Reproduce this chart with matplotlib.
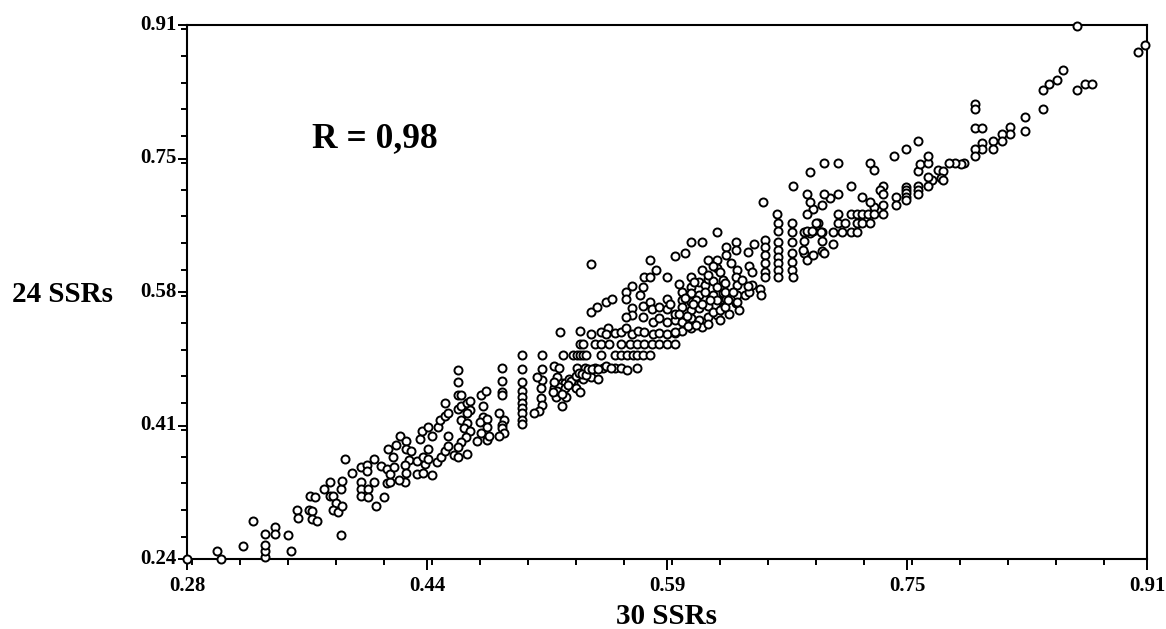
import numpy as np
from matplotlib import pyplot as plt
from matplotlib.ticker import MultipleLocator
from matplotlib.transforms import ScaledTranslation

plt.rcParams['font.family'] = ['Liberation Serif', 'DejaVu Serif']
plt.rcParams['font.weight'] = 'bold'

x_ticklabels = ['0.28', '0.44', '0.59', '0.75', '0.91']
y_ticklabels = ['0.24', '0.41', '0.58', '0.75', '0.91']

# (30 SSRs, 24 SSRs), split by area of the cloud
low = [(.28,.24),(.302,.24),(.30,.25),(.317,.256),(.323,.288),(.331,.243),(.331,.25),(.331,.258),(.331,.271),
       (.338,.28),(.338,.271),(.346,.27),(.348,.25),(.352,.301),(.353,.291),(.36,.301),(.362,.30),(.362,.29),
       (.365,.288),(.381,.27),(.361,.319),(.364,.318),(.37,.328),(.374,.337),(.374,.319),(.376,.319),(.378,.31),
       (.376,.301),(.379,.299),(.382,.306),(.381,.328),(.382,.338),(.384,.365),(.388,.348),(.394,.355),(.398,.358),
       (.398,.35),(.394,.337),(.394,.328),(.394,.319),(.399,.328),(.399,.318),(.403,.337),(.404,.306),(.409,.318),
       (.403,.365),(.407,.357),(.411,.353),(.411,.335),(.413,.337),(.413,.347),(.416,.355),(.415,.368),(.412,.378),
       (.417,.383),(.42,.394),(.424,.388),(.424,.378),(.427,.375),(.426,.364),(.423,.358),(.424,.348),(.423,.337),
       (.419,.339),(.431,.363),(.431,.347),(.435,.348),(.436,.359),(.435,.368),(.438,.365),(.441,.345),(.444,.362),
       (.447,.368),(.449,.375),(.451,.382),(.451,.394),(.438,.378),(.433,.391),(.434,.401),(.438,.406),(.441,.394),
       (.445,.406),(.446,.414),(.449,.419),(.451,.423),(.449,.436)]

lower_mid = [(.458,.477),(.458,.462),(.458,.446),(.46,.446),(.458,.428),(.46,.432),(.464,.436),(.466,.438),(.466,.427),
             (.464,.423),(.46,.414),(.464,.411),(.462,.404),(.466,.401),(.463,.393),(.46,.387),(.458,.381),(.455,.371),
             (.458,.368),(.464,.372),(.47,.388),(.473,.446),(.476,.451),(.474,.432),(.474,.418),(.472,.412),(.477,.416),
             (.477,.406),(.473,.398),(.477,.389),(.478,.394),(.485,.423),(.488,.414),(.487,.408),(.487,.404),(.488,.398),
             (.485,.394),(.487,.48),(.487,.463),(.487,.45),(.487,.446),
             (.5,.496),(.5,.478),(.5,.462),(.5,.451),(.5,.443),(.5,.436),(.5,.43),(.5,.423),(.5,.414),(.5,.409),
             (.513,.496),(.513,.478),(.513,.465),(.51,.468),(.512,.455),(.512,.442),(.513,.433),(.511,.426),(.508,.423),
             (.521,.482),(.524,.48),(.523,.468),(.521,.455),(.526,.461),(.525,.451),(.522,.443),(.526,.432),(.529,.443),
             (.528,.461),(.531,.466),(.536,.48),(.536,.468),(.533,.461),(.535,.455),(.538,.45),(.54,.466),(.541,.48),
             (.545,.468),(.55,.466),(.548,.48),(.553,.48),(.555,.482),(.561,.48),(.565,.48),(.569,.477),(.575,.48),
             (.524,.456),(.523,.451),(.528,.454),(.532,.463),(.535,.47),(.537,.473),(.53,.458),(.526,.447),(.52,.449),
             (.521,.462),(.539,.472),(.542,.471),(.543,.478),(.546,.478),(.55,.478),(.558,.48)]

rows_mid = [(.527,.496),(.533,.496),(.536,.496),(.538,.496),(.54,.496),(.542,.496),(.552,.496),(.561,.496),(.565,.496),
            (.569,.496),(.573,.496),(.575,.496),(.579,.496),(.584,.496),
            (.538,.51),(.54,.51),(.548,.51),(.552,.51),(.557,.51),(.565,.51),(.571,.51),(.575,.51),(.58,.51),(.585,.51),
            (.59,.51),(.595,.51),(.6,.51),
            (.538,.526),(.545,.522),(.552,.525),(.556,.53),(.555,.522),(.561,.524),(.565,.525),(.568,.53),(.572,.522),
            (.576,.526),(.58,.525),(.586,.522),(.59,.524),(.595,.522),(.6,.524),(.605,.526),(.611,.53),(.618,.531),
            (.525,.525)]

upper_mid = [(.545,.61),(.545,.55),(.549,.556),(.555,.562),(.559,.566),(.568,.575),(.572,.583),(.568,.566),(.577,.571),
             (.579,.581),(.58,.594),(.584,.594),(.588,.603),(.584,.615),(.595,.594),(.6,.62),(.607,.624),(.611,.638),
             (.618,.638),(.628,.65),(.572,.555),(.572,.546),(.568,.544),(.579,.558),(.579,.544),(.584,.562),(.585,.554),
             (.586,.537),(.59,.556),(.59,.542),(.595,.566),(.595,.554),(.595,.537),(.6,.54),(.605,.575),(.605,.565),
             (.605,.556),(.605,.537),(.611,.594),(.611,.581),(.611,.574),(.611,.562),(.611,.552),(.611,.542),(.616,.588),
             (.616,.571),(.616,.555),(.616,.54),(.622,.615),(.618,.603),(.62,.584),(.622,.591),(.625,.589),(.625,.571),
             (.622,.558),(.622,.544),(.628,.615),(.628,.605),(.628,.581),(.628,.565),(.628,.546),(.632,.59),(.632,.574),
             (.634,.632),(.634,.622),(.634,.566),(.632,.556),(.64,.638),(.64,.628),(.637,.611),(.641,.603),(.64,.594),
             (.641,.584),(.641,.571),(.64,.561),(.646,.571),(.649,.575),(.651,.584),(.649,.608),(.651,.6),(.648,.625),
             (.652,.635),(.659,.64),(.659,.632),(.659,.622),(.659,.611),(.659,.6),(.659,.594),(.656,.579),(.657,.571),
             (.668,.662),(.668,.652),(.668,.638),(.668,.628),(.668,.619),(.668,.611),(.668,.603),(.668,.594),
             (.677,.662),(.677,.65),(.677,.638),(.677,.624),(.677,.613),(.677,.603),(.678,.594),
             (.685,.65),(.689,.649),(.685,.639),(.685,.624),(.687,.615),(.691,.622),(.697,.65),(.697,.639),(.697,.627),
             (.694,.662)]

# overlapping marks in the thick of the cloud
dense = [(.597,.56),(.6,.548),(.608,.545),(.613,.588),(.603,.585),(.607,.567),(.614,.565),(.618,.56),(.62,.575),
         (.623,.565),(.63,.6),(.625,.607),(.644,.59),(.648,.582),(.63,.54),(.636,.548),(.642,.553),(.625,.55),
         (.612,.56),(.603,.548),(.609,.532),(.614,.533),(.622,.535),(.63,.553),(.622,.596),(.633,.586),(.633,.575),
         (.633,.556),(.635,.565),(.638,.575),(.641,.562),(.6,.525),(.687,.652),(.691,.652),(.704,.635),(.698,.624),
         (.684,.628),(.69,.651)]

high = [(.864,.909),(.904,.876),(.909,.885),(.855,.854),(.851,.841),(.846,.836),(.842,.829),(.864,.829),(.869,.836),
        (.874,.836),(.842,.805),(.83,.795),(.83,.777),(.82,.782),(.82,.773),(.815,.773),(.815,.765),(.809,.765),
        (.809,.755),(.802,.762),(.802,.755),(.797,.755),(.797,.746),(.797,.811),(.797,.805),(.797,.781),(.802,.781),
        (.79,.737),(.788,.736),(.784,.737),(.78,.737),(.773,.728),(.776,.727),(.775,.718),(.776,.716),(.769,.716),
        (.766,.719),(.766,.708),(.76,.727),(.761,.736),(.766,.737),(.766,.746),(.76,.765),(.752,.755),(.744,.746),
        (.76,.708),(.76,.703),(.76,.698),(.752,.707),(.752,.703),(.752,.699),(.752,.694),(.752,.69),(.745,.694),
        (.745,.684),(.737,.708),(.735,.703),(.737,.698),(.737,.684),(.737,.673),(.731,.682),(.728,.688),(.723,.694),
        (.728,.737),(.731,.728),(.716,.708),(.707,.737),(.698,.737),(.689,.726),(.678,.708),(.707,.698),(.702,.693),
        (.698,.698),(.697,.684),(.691,.679),(.689,.688),(.687,.698),(.687,.673),(.707,.673),(.716,.673),(.72,.673),
        (.723,.673),(.727,.673),(.731,.673),(.707,.662),(.712,.662),(.72,.662),(.723,.662),(.728,.662),(.704,.65),
        (.71,.65),(.716,.65),(.72,.65),(.693,.662),(.696,.65),(.667,.673),(.658,.688)]

# all groups together
data = np.array(low + lower_mid + rows_mid + upper_mid + dense + high)

fig, ax = plt.subplots(figsize=(11.66, 6.29), dpi=100)
fig.subplots_adjust(left=187/1166, right=1147/1166, top=1-25/629, bottom=1-559/629)

ax.plot(data[:, 0], data[:, 1], 'o', ms=5.8, mfc='white', mec='black', mew=1.4, clip_on=False, zorder=5)

ax.set_xlim(0.28, 0.91)
ax.set_ylim(0.24, 0.91)
ax.set_xticks(np.linspace(0.28, 0.91, 5))
ax.set_yticks(np.linspace(0.24, 0.91, 5))
ax.set_xticklabels(x_ticklabels, fontsize=15)
ax.set_yticklabels(y_ticklabels, fontsize=15)
ax.xaxis.set_minor_locator(MultipleLocator(0.63 / 20))
ax.yaxis.set_minor_locator(MultipleLocator(0.67 / 20))
ax.tick_params(axis='x', which='major', length=8, width=1.4, pad=4.5)
ax.tick_params(axis='x', which='minor', length=4, width=1.4)
ax.tick_params(axis='y', which='major', length=6.5, width=1.4, pad=1)
ax.tick_params(axis='y', which='minor', length=4.3, width=1.4)
# y labels sit a little above their ticks
for t in ax.get_yticklabels():
    t.set_transform(t.get_transform() + ScaledTranslation(0, 3/100, fig.dpi_scale_trans))
for s in ax.spines.values():
    s.set_linewidth(1.5)

fig.text(666/1166, 1-616/629, '30 SSRs', fontsize=21, fontweight='bold', ha='center', va='center')
fig.text(62/1166, 1-295/629, '24 SSRs', fontsize=21, fontweight='bold', ha='center', va='center')
fig.text(375/1166, 1-139/629, 'R = 0,98', fontsize=25.5, fontweight='bold', ha='center', va='center')

plt.savefig('out.png', dpi=100)
